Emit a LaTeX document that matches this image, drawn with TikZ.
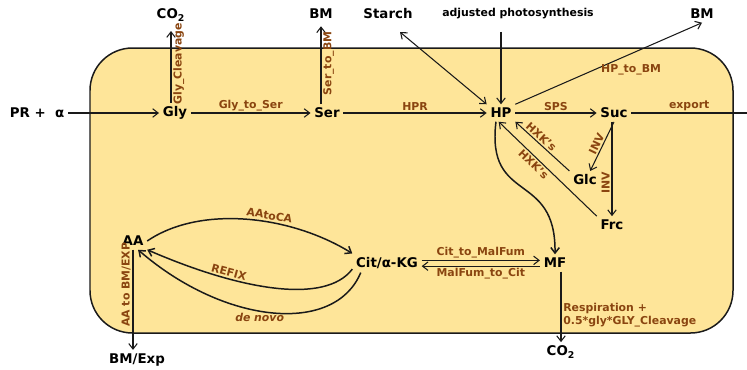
\documentclass[tikz,border=0pt]{standalone}
\usepackage{fontspec}
\setmainfont{DejaVu Sans}
\usepackage{tikz}
\usetikzlibrary{arrows.meta,calc}
\definecolor{cmcell}{HTML}{FEE599}
\definecolor{cmbrown}{HTML}{8A4510}
\definecolor{cmink}{HTML}{1A1A1A}
\tikzset{
  cmpool/.style={font=\bfseries\fontsize{7.6}{9}\selectfont, text=black, inner sep=2pt},
  cmsink/.style={cmpool},
  cmnote/.style={font=\bfseries\fontsize{6.2}{7.4}\selectfont, text=black, inner sep=1pt},
  cmlab/.style={font=\bfseries\fontsize{6.2}{7.4}\selectfont, text=cmbrown, inner sep=1pt},
  cmflux/.style={-{Straight Barb[length=1.1mm,width=1.7mm]}, line width=0.6pt, draw=cmink},
  cmboth/.style={cmflux, {Straight Barb[length=1.1mm,width=1.7mm]}-{Straight Barb[length=1.1mm,width=1.7mm]}},
  cmbend/.style={cmflux, line width=0.85pt}
}

\begin{document}
\begin{tikzpicture}[x=0.02cm, y=-0.02cm]
\useasboundingbox (0,0) rectangle (747,369);
\draw[line width=0.85pt, draw=cmink, fill=cmcell, rounded corners=0.85cm] (90,48) rectangle (733,333);
\node[cmpool] (pr) at (37,113) {PR +\ \ α};
\node[cmpool] (gly) at (175,113) {Gly};
\node[cmpool] (ser) at (327,113) {Ser};
\node[cmpool] (hp) at (501,113) {HP};
\node[cmpool] (suc) at (614,113) {Suc};
\node[cmpool] (glc) at (585,180) {Glc};
\node[cmpool] (frc) at (612,225) {Frc};
\node[cmpool] (mf) at (555,263) {MF};
\node[cmpool] (cit) at (387,263) {Cit/α-KG};
\node[cmpool] (aa) at (133,241) {AA};
\node[cmsink] (co2a) at (171,15) {CO\textsubscript{2}};
\node[cmsink] (bma) at (321,14) {BM};
\node[cmsink] (starch) at (388,14) {Starch};
\node[cmnote] (adj) at (518,14) {adjusted photosynthesis};
\node[cmsink] (bmb) at (702,14) {BM};
\node[cmsink] (bmexp) at (137,360) {BM/Exp};
\node[cmsink] (co2b) at (561,352) {CO\textsubscript{2}};
\coordinate (out) at (747,113);
\draw[cmflux, shorten >=3.5pt] (gly.north -| co2a.south) -- node[cmlab, rotate=90, anchor=north] {Gly\_Cleavage} (co2a.south);
\draw[cmflux] (pr) -- (gly);
\draw[cmflux] (gly) -- node[cmlab, above] {Gly\_to\_Ser} (ser);
\draw[cmflux, shorten >=2pt] (ser.north -| bma.south) -- node[cmlab, rotate=90, anchor=north] {Ser\_to\_BM} (bma.south);
\draw[cmflux] (ser) -- node[cmlab, above] {HPR} (hp);
\draw[cmboth] (hp.north west) -- ([shift={(12,9)}]starch.south);
\draw[cmflux] ([yshift=-6pt]adj.south -| hp.north) -- (hp.north);
\draw[cmflux] (hp.north east) -- node[cmlab, pos=0.62, below=5pt] {HP\_to\_BM} (bmb.south);
\draw[cmflux] (hp) -- node[cmlab, above] {SPS} (suc);
\draw[line width=0.6pt, draw=cmink] (suc) -- node[cmlab, above] {export} (out);
\draw[cmflux] (suc.south) -- node[cmlab, sloped, above] {INV} (glc.60);
\draw[cmflux] (suc.south -| frc.north) -- node[cmlab, pos=0.65, rotate=90, anchor=south] {INV} (frc.north);
\draw[cmflux] (glc.north west) -- node[cmlab, pos=0.6, sloped, above] {HXK's} (hp.south east);
\draw[cmflux] (frc.north west) -- node[cmlab, pos=0.6, sloped, below] {HXK's} (hp.-105);
\draw[cmbend] (hp.-120) .. controls (486,205) and (556,170) .. (mf.north);
\draw[cmflux] ([yshift=1.5pt]cit.east) -- node[cmlab, above] {Cit\_to\_MalFum} ([yshift=1.5pt]cit.east -| mf.west);
\draw[cmflux] ([yshift=-1.8pt]cit.east -| mf.west) -- node[cmlab, below] {MalFum\_to\_Cit} ([yshift=-1.8pt]cit.east);
\draw[cmflux] (mf.south -| co2b.north) -- node[cmlab, pos=0.62, right, align=left] {Respiration +\\0.5*gly*GLY\_Cleavage} (co2b.north);
\draw[cmbend] (aa.east) .. controls (200,205) and (290,215) .. node[cmlab, pos=0.6, sloped, above] {AAtoCA} (cit.north west);
\draw[cmbend] (cit.-170) .. controls (325,305) and (240,290) .. node[cmlab, pos=0.7, sloped, above] {REFIX} (aa.south east);
\draw[cmbend] (cit.-160) .. controls (335,335) and (225,325) .. node[cmlab, pos=0.55, below] {\itshape de novo} (aa.-60);
\draw[cmflux] (aa.south) -- node[cmlab, pos=0.35, rotate=90, anchor=south] {AA to BM/EXP} (bmexp.north -| aa.south);
\end{tikzpicture}
\end{document}
